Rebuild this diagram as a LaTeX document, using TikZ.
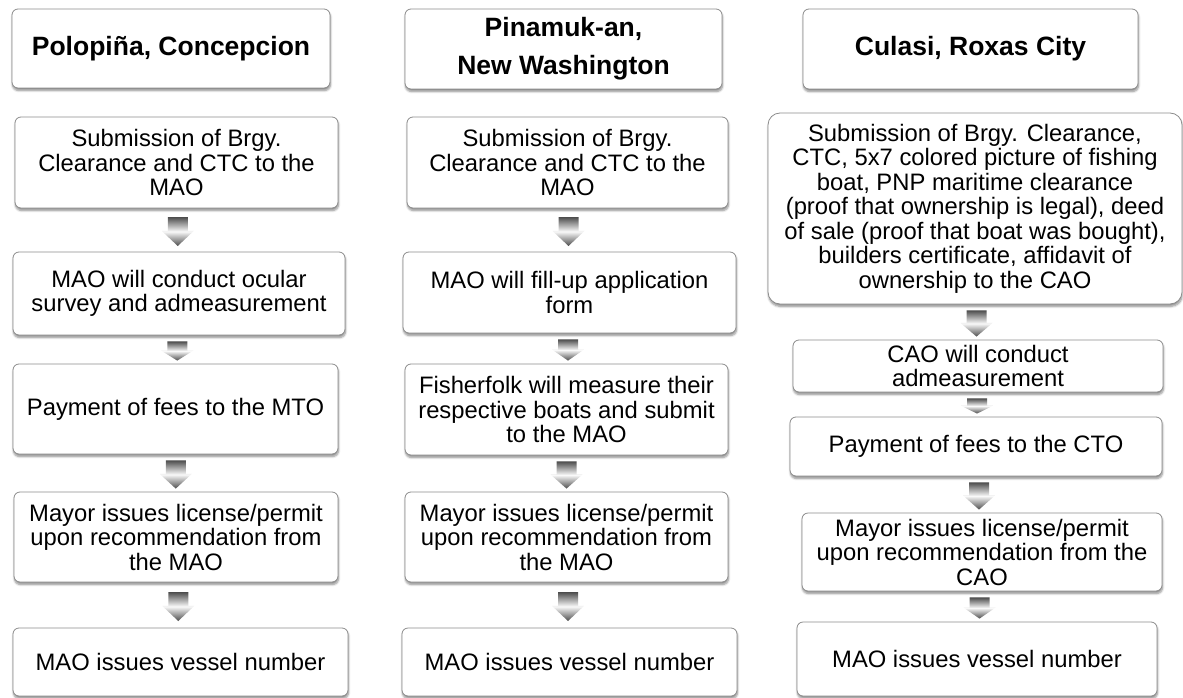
\documentclass[tikz,border=0pt]{standalone}
\usepackage{fontspec}
\setmainfont{Liberation Sans}
\usetikzlibrary{calc,shadows.blur}

% block arrow between two boxes, shaded dark-light-dark
\newcommand{\flowarrow}[2]{%
  \path[top color=gray!60!black, bottom color=gray!60!black, middle color=gray!5]
    let \p1=(#1.south), \p2=(#2.north),
        \n1={min(29,(\y1)-(\y2)-9)}, \n2={((\y1)+(\y2))/2-1.5}, \n3={((\x1)+(\x2))/2} in
    ({(\n3-10)*1pt},{(\n2+\n1/2)*1pt}) -- ({(\n3+10)*1pt},{(\n2+\n1/2)*1pt})
    -- ({(\n3+10)*1pt},{(\n2+\n1/2-0.48*\n1)*1pt}) -- ({(\n3+16)*1pt},{(\n2+\n1/2-0.48*\n1)*1pt})
    -- ({\n3*1pt},{(\n2-\n1/2)*1pt})
    -- ({(\n3-16)*1pt},{(\n2+\n1/2-0.48*\n1)*1pt}) -- ({(\n3-10)*1pt},{(\n2+\n1/2-0.48*\n1)*1pt})
    -- cycle;}

\begin{document}
\begin{tikzpicture}[x=1pt, y=-1pt,
  box/.style={draw=black!45, line width=0.8pt, fill=white, rounded corners=6pt,
    align=center, inner sep=0pt,
    blur shadow={shadow xshift=0.5pt, shadow yshift=-2.5pt, shadow blur steps=6, shadow opacity=45},
    font=\fontsize{23.8}{24.5}\selectfont},
  head/.style={box, font=\bfseries\fontsize{26.5}{38}\selectfont},
  dim/.style 2 args={minimum width=#1pt, minimum height=#2pt}]
  \useasboundingbox (0,0) rectangle (1183,698);
  % Polopina, Concepcion
  \node[head, dim={318}{79}] (h1) at (171,48.5) {Polopiña, Concepcion};
  \node[box, dim={323}{91}] (a1) at (176.5,162.5) {Submission of Brgy.\\Clearance and CTC to the\\MAO};
  \node[box, dim={332}{83}] (a2) at (179,293.5) {MAO will conduct ocular\\survey and admeasurement};
  \node[box, dim={325}{90}] (a3) at (175.5,409) {Payment of fees to the MTO};
  \node[box, dim={324}{90}] (a4) at (176,537) {Mayor issues license/permit\\upon recommendation from\\the MAO};
  \node[box, dim={335}{68}] (a5) at (180.5,662) {MAO issues vessel number};
  % Pinamuk-an, New Washington
  \node[head, dim={317}{80}] (h2) at (563.5,49) {Pinamuk-an,\\New Washington};
  \node[box, dim={321}{91}] (b1) at (567.5,162.5) {Submission of Brgy.\\Clearance and CTC to the\\MAO};
  \node[box, dim={333}{81}] (b2) at (569.5,292.5) {MAO will fill-up application\\form};
  \node[box, dim={323}{91}] (b3) at (566.5,409.5) {Fisherfolk will measure their\\respective boats and submit\\to the MAO};
  \node[box, dim={323}{90}] (b4) at (566.5,537) {Mayor issues license/permit\\upon recommendation from\\the MAO};
  \node[box, dim={335}{68}] (b5) at (569.5,662) {MAO issues vessel number};
  % Culasi, Roxas City
  \node[head, dim={335}{80}] (h3) at (970.5,49) {Culasi, Roxas City};
  \node[box, rounded corners=12pt, dim={414}{191}] (c1) at (975,208.5) {Submission of Brgy. Clearance,\\CTC, 5x7 colored picture of fishing\\boat, PNP maritime clearance\\(proof that ownership is legal), deed\\of sale (proof that boat was bought),\\builders certificate, affidavit of\\ownership to the CAO};
  \node[box, dim={370}{52}] (c2) at (978,366) {CAO will conduct\\admeasurement};
  \node[box, dim={372}{59}] (c3) at (976,446.5) {Payment of fees to the CTO};
  \node[box, dim={360}{78}] (c4) at (982,552) {Mayor issues license/permit\\upon recommendation from the\\CAO};
  \node[box, dim={360}{74}] (c5) at (977,659) {MAO issues vessel number};
  % arrows
  \foreach \c in {a,b,c}
    \foreach \i/\j in {1/2,2/3,3/4,4/5}
      \flowarrow{\c\i}{\c\j};
\end{tikzpicture}
\end{document}
